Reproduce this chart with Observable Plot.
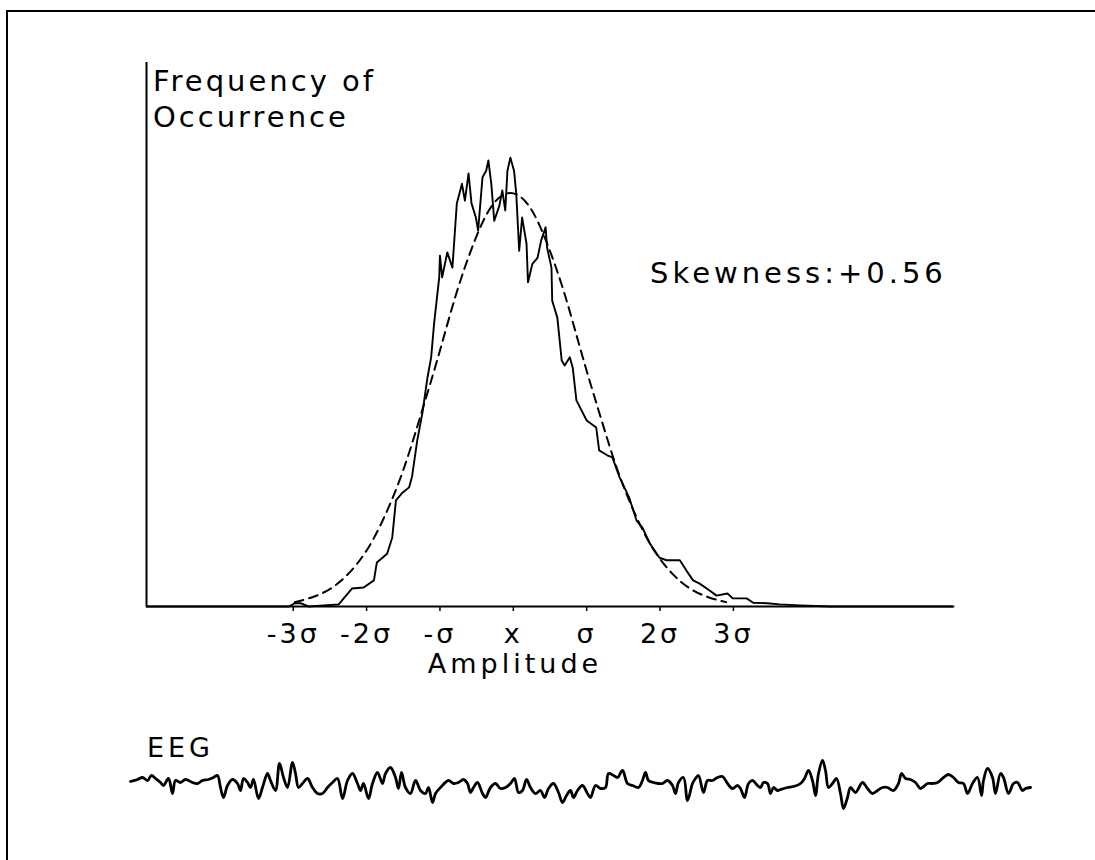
<!DOCTYPE html>
<html><head><meta charset="utf-8">
<script src="https://cdn.jsdelivr.net/npm/d3@7"></script>
<script src="https://cdn.jsdelivr.net/npm/@observablehq/plot@0.6"></script>
<style>
html,body{margin:0;padding:0;background:#fff;overflow:hidden;}
#wrap{position:relative;width:1095px;height:860px;overflow:hidden;font-family:"DejaVu Sans",sans-serif;color:#000;background:#fff;}
.fline{position:absolute;background:#000;}
.t{position:absolute;white-space:nowrap;font-size:29px;letter-spacing:2.5px;line-height:1;}
#wrap svg{position:absolute;left:0;overflow:visible;}
</style></head>
<body><div id="wrap"><div class="fline" style="left:6px;top:10px;width:1089px;height:2px;"></div><div class="fline" style="left:6px;top:10px;width:2px;height:850px;"></div></div>
<script>
// Amplitude axis (units of sigma) and tick labels
const ampTicks = [-3, -2, -1, 0, 1, 2, 3];
const ampTickLabels = ["-3σ", "-2σ", "-σ", "x", "σ", "2σ", "3σ"];

// Observed amplitude histogram (solid line): amplitude in σ, frequency (arbitrary units)
const histAmp = [-5.00,-3.06,-2.98,-2.90,-2.79,-2.38,-2.20,-2.04,-1.90,-1.86,-1.72,-1.65,-1.60,-1.52,-1.42,-1.38,-1.31,-1.24,-1.17,-1.12,-1.08,-1.01,-1.00,-0.97,-0.90,-0.83,-0.77,-0.70,-0.66,-0.61,-0.57,-0.51,-0.48,-0.42,-0.37,-0.34,-0.30,-0.26,-0.19,-0.15,-0.11,-0.08,-0.04,0.01,0.04,0.08,0.12,0.18,0.20,0.26,0.33,0.38,0.44,0.46,0.52,0.53,0.60,0.66,0.70,0.77,0.81,0.86,1.00,1.13,1.17,1.28,1.35,1.45,1.58,1.68,1.76,1.86,1.99,2.09,2.27,2.36,2.45,2.54,2.68,2.77,2.92,2.99,3.18,3.27,3.46,3.63,3.91,4.32,6.00];
const histFreq = [0,0,6,6,0,4,33,35,48,81,97,127,195,208,219,239,305,355,421,458,520,605,645,605,651,623,741,777,746,796,741,715,691,789,801,820,777,709,737,765,728,801,825,801,759,654,715,667,596,630,641,673,697,660,623,562,531,452,443,458,439,379,342,329,287,278,274,237,200,158,145,116,90,85,85,66,48,42,29,20,24,15,15,7,6,4,2,0,0];

// Normal distribution fit (dashed line)
const normAmp = [-2.98,-2.74,-2.49,-2.25,-2.00,-1.76,-1.51,-1.27,-1.02,-0.78,-0.53,-0.29,-0.04,0.21,0.45,0.70,0.94,1.19,1.43,1.68,1.92,2.17,2.41,2.66,2.90];
const normFreq = [8,17,33,60,103,164,247,348,461,574,671,737,760,737,671,574,461,348,247,164,103,60,33,17,8];

// EEG trace: sample index and amplitude (arbitrary units)
const eegT = [0,7,12,17,21,25,30,33,38,42,45,50,55,62,67,72,78,83,87,90,93,97,102,107,110,113,117,120,123,128,132,137,140,145,149,153,157,162,165,168,172,177,182,187,192,197,202,207,212,217,222,227,230,233,238,242,247,252,255,260,265,268,271,275,280,285,290,295,298,302,305,310,318,323,328,333,337,340,343,347,352,355,360,365,370,375,380,384,388,392,396,400,405,410,414,418,423,428,432,436,440,443,447,452,457,460,465,470,475,478,483,487,492,497,502,508,512,515,518,523,528,532,537,542,545,548,553,557,562,565,568,573,577,582,587,592,597,602,607,610,614,618,622,627,630,633,637,640,643,647,650,657,663,670,674,678,682,685,688,692,695,698,702,706,710,713,717,720,725,732,737,742,747,752,757,763,768,771,775,780,785,790,797,802,807,813,818,823,828,833,837,842,847,851,853,857,862,865,870,873,878,883,887,892,895,900];
const eegV = [2,4,6,3,8,5,1,-2,5,-10,3,1,4,1,0,3,4,6,8,-4,-14,-2,4,0,-7,5,1,-4,4,-15,-4,10,3,-7,20,6,-4,21,10,-4,0,5,-4,-10,-10,-4,1,5,-15,3,10,0,-7,0,-15,0,11,0,10,16,6,-5,11,-4,-10,3,-7,-10,-4,-19,-10,-4,3,0,1,4,0,-9,-4,1,-10,-14,-4,0,-5,-4,0,5,-9,-7,4,-4,-10,-7,-14,-5,0,-9,-19,-12,-7,-14,-7,-2,-10,-14,-2,-5,-4,10,8,6,13,0,-2,-4,3,11,3,1,0,0,3,-2,-10,1,6,-17,0,5,8,-9,3,3,6,7,0,-5,-2,-5,-14,0,3,-2,-4,1,0,-10,-4,-7,-6,-4,-3,0,5,13,3,-12,10,23,13,-4,0,5,-10,-25,-14,-4,-9,1,-5,-10,-7,-4,-4,-7,0,10,5,4,1,-5,0,0,1,6,9,6,1,0,-10,0,6,-12,3,15,6,-10,10,6,-10,0,1,-7,-5,-4];

const hist = histAmp.map((a, i) => ({amp: a, freq: histFreq[i]}));
const norm = normAmp.map((a, i) => ({amp: a, freq: normFreq[i]}));
const eeg = eegT.map((t, i) => ({t, v: eegV[i]}));

const wrap = document.getElementById("wrap");

const main = Plot.plot({
  width: 1095, height: 660,
  marginLeft: 146, marginRight: 142, marginTop: 62, marginBottom: 54,
  style: {background: "transparent", color: "#000", fontFamily: "DejaVu Sans, sans-serif"},
  x: {domain: [-5, 6]},
  y: {domain: [0, 1000], axis: null},
  marks: [
    Plot.ruleX([-5], {stroke: "#000", strokeWidth: 2}),
    Plot.ruleY([0], {stroke: "#000", strokeWidth: 2.2}),
    Plot.axisX({ticks: ampTicks, tickFormat: d => ampTickLabels[ampTicks.indexOf(d)], tickSize: 5, tickPadding: 12, fontSize: 27, label: null, stroke: "#000", strokeWidth: 1.5}),
    Plot.line(norm, {x: "amp", y: "freq", stroke: "#000", strokeWidth: 2, strokeDasharray: "9,6", curve: "natural"}),
    Plot.line(hist, {x: "amp", y: "freq", stroke: "#000", strokeWidth: 1.9, strokeLinejoin: "round"})
  ]
});
main.style.top = "0px";
main.querySelectorAll("text").forEach(t => t.style.letterSpacing = "3px");
wrap.appendChild(main);

const eegPlot = Plot.plot({
  width: 1095, height: 126,
  marginLeft: 130, marginRight: 65, marginTop: 0, marginBottom: 0,
  style: {background: "transparent"},
  x: {domain: [0, 900], axis: null},
  y: {domain: [-63, 63], axis: null},
  marks: [
    Plot.line(eeg, {x: "t", y: "v", stroke: "#000", strokeWidth: 2.8, strokeLinejoin: "round", curve: "catmull-rom"})
  ]
});
eegPlot.style.top = "720px";
wrap.appendChild(eegPlot);

function label(txt, left, top, size, ls, center) {
  const d = document.createElement("div");
  d.className = "t";
  d.textContent = txt;
  d.style.left = left + "px";
  d.style.top = top + "px";
  d.style.fontSize = size + "px";
  d.style.letterSpacing = ls + "px";
  if (center) d.style.transform = "translateX(-50%)";
  wrap.appendChild(d);
}
label("Frequency of", 153, 67, 29, 3.0);
label("Occurrence", 153, 103, 29, 3.0);
label("Skewness:+0.56", 650, 259, 29, 4.0);
label("Amplitude", 515, 650, 27, 4, true);
label("EEG", 147, 734, 27, 4);
</script>
</body></html>
